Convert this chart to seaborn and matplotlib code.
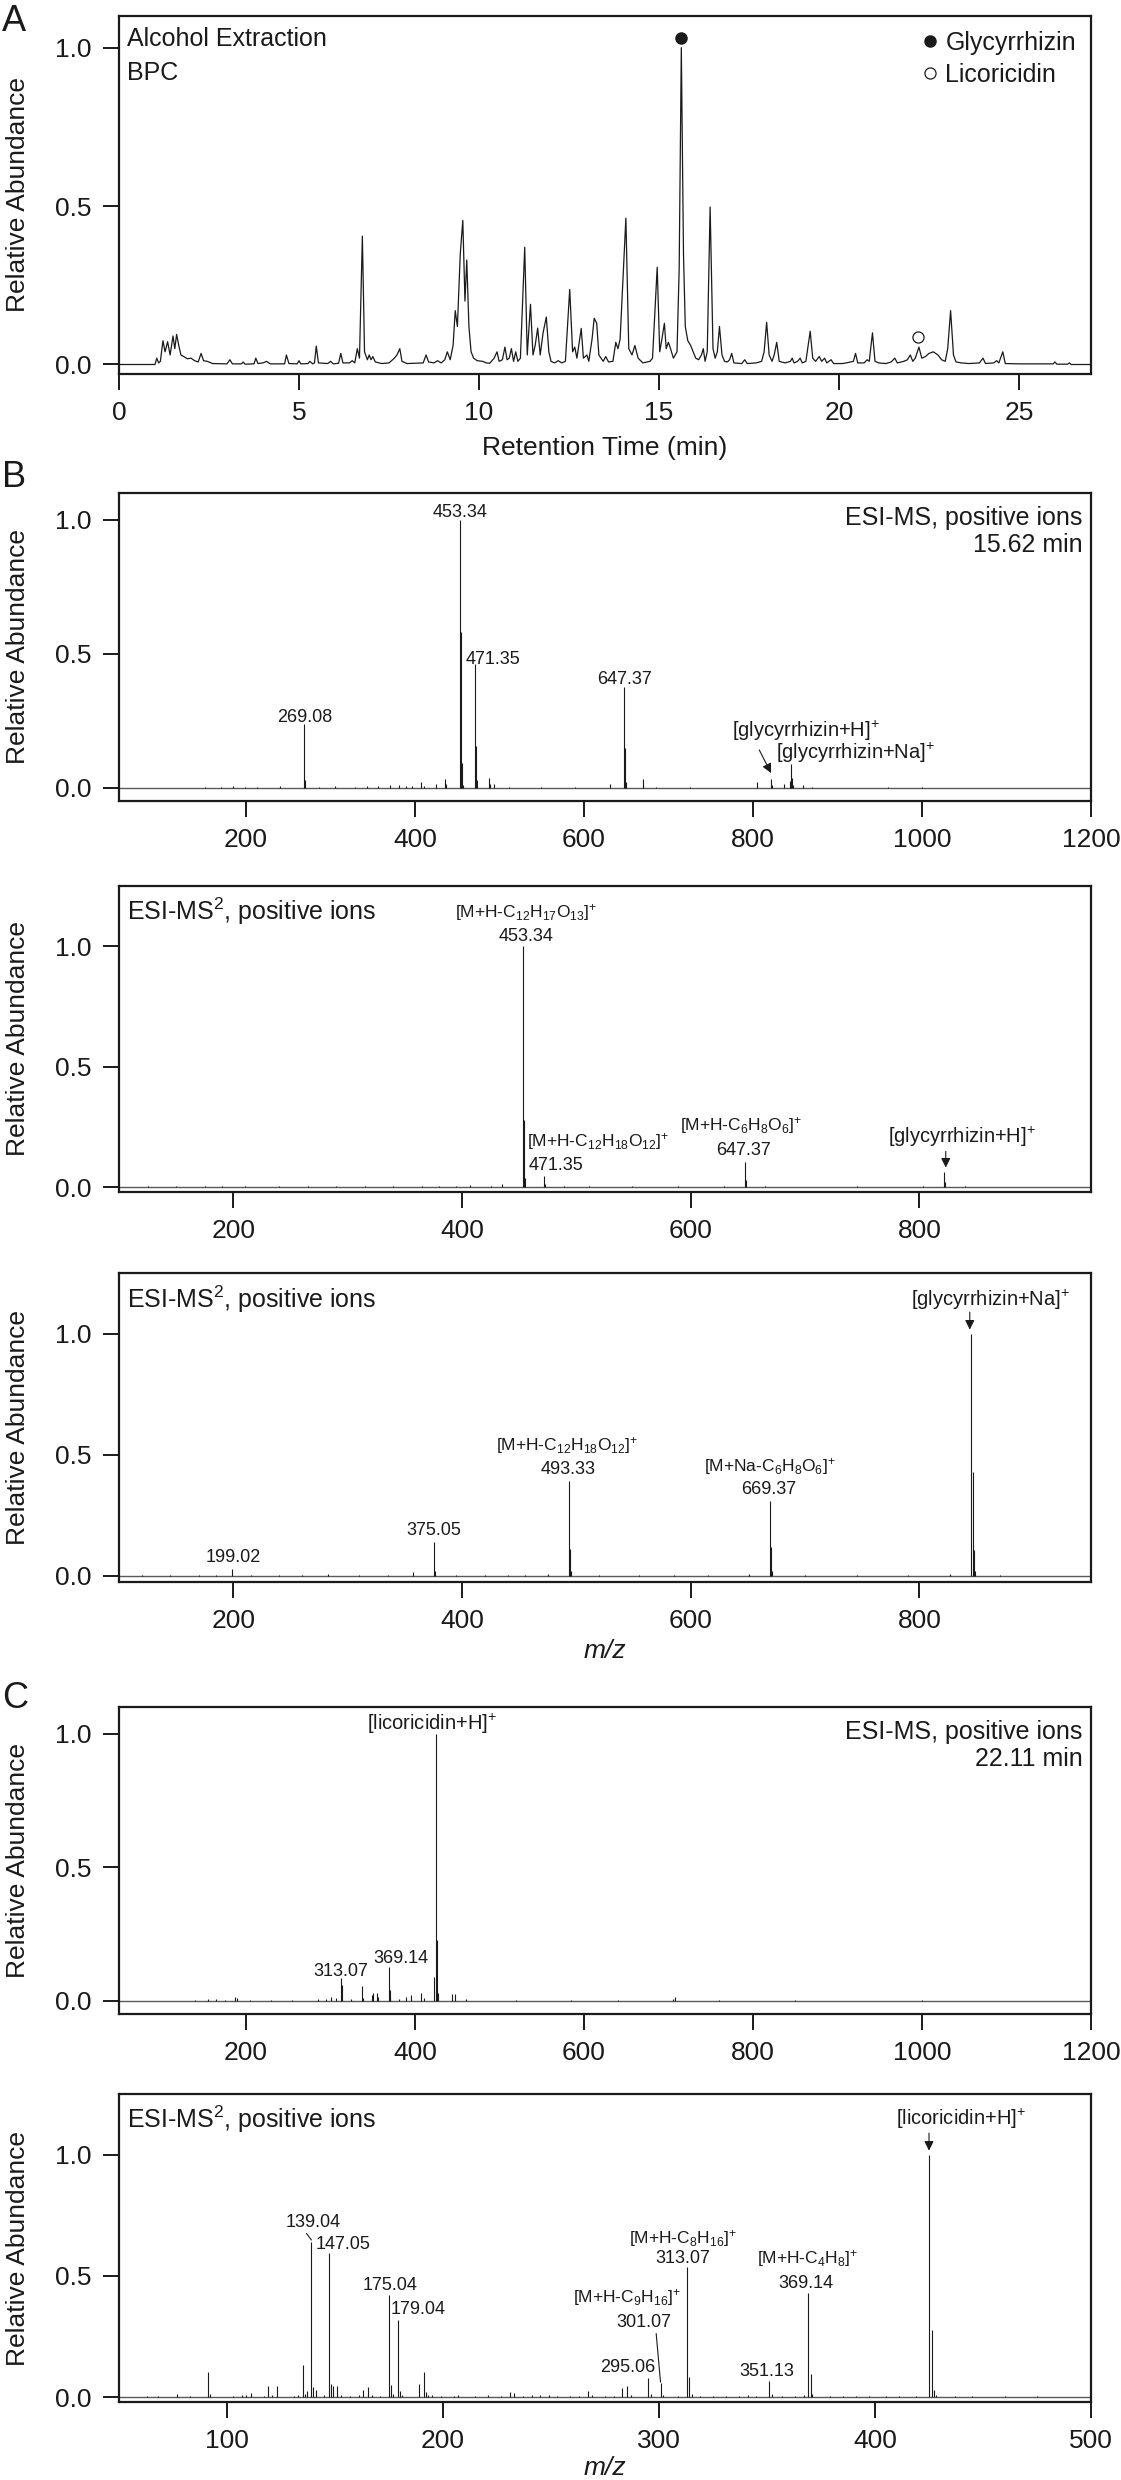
import matplotlib
matplotlib.use("Agg")
import matplotlib.pyplot as plt
import seaborn as sns
from matplotlib.lines import Line2D

# ---------------- data ----------------
# A: base peak chromatogram (retention time in min, relative abundance)
bpc_time = [0.0, 1.0, 1.05, 1.1, 1.15, 1.22, 1.28, 1.35, 1.42, 1.5, 1.55, 1.6, 1.66, 1.72, 1.8, 1.9, 2.0, 2.1,
            2.2, 2.28, 2.35, 2.45, 2.6, 3.0, 3.08, 3.15, 3.4, 3.45, 3.5, 3.75, 3.8, 3.86, 4.0, 4.1, 4.2, 4.6,
            4.65, 4.72, 4.95, 5.0, 5.05, 5.25, 5.3, 5.38, 5.43, 5.48, 5.54, 5.8, 5.88, 5.95, 6.1, 6.16, 6.22,
            6.4, 6.48, 6.55, 6.62, 6.68, 6.76, 6.82, 6.9, 6.95, 7.0, 7.05, 7.12, 7.3, 7.5, 7.65, 7.72, 7.8,
            7.86, 8.0, 8.45, 8.53, 8.6, 8.75, 8.85, 8.95, 9.05, 9.12, 9.2, 9.28, 9.34, 9.4, 9.48, 9.55, 9.61,
            9.66, 9.72, 9.78, 9.85, 9.95, 10.1, 10.2, 10.3, 10.42, 10.5, 10.56, 10.65, 10.72, 10.78, 10.84,
            10.9, 10.96, 11.02, 11.08, 11.15, 11.27, 11.34, 11.43, 11.5, 11.56, 11.63, 11.7, 11.78, 11.87,
            11.94, 12.0, 12.1, 12.2, 12.3, 12.4, 12.52, 12.6, 12.66, 12.72, 12.84, 12.9, 13.0, 13.05, 13.14,
            13.2, 13.27, 13.33, 13.45, 13.52, 13.6, 13.72, 13.8, 13.86, 13.92, 14.08, 14.16, 14.25, 14.33,
            14.42, 14.55, 14.75, 14.82, 14.95, 15.02, 15.08, 15.15, 15.2, 15.26, 15.32, 15.4, 15.5, 15.56,
            15.62, 15.68, 15.73, 15.8, 15.88, 15.95, 16.02, 16.1, 16.18, 16.23, 16.28, 16.34, 16.42, 16.5,
            16.56, 16.62, 16.68, 16.75, 16.82, 16.9, 16.96, 17.02, 17.08, 17.3, 17.38, 17.45, 17.7, 17.85,
            17.92, 17.99, 18.06, 18.14, 18.2, 18.27, 18.34, 18.5, 18.65, 18.7, 18.75, 18.85, 18.92, 18.98,
            19.08, 19.2, 19.27, 19.35, 19.45, 19.52, 19.6, 19.66, 19.78, 19.85, 20.1, 20.2, 20.4, 20.46,
            20.52, 20.7, 20.78, 20.84, 20.93, 21.0, 21.1, 21.3, 21.45, 21.55, 21.62, 21.8, 21.9, 21.98,
            22.05, 22.12, 22.22, 22.3, 22.4, 22.5, 22.62, 22.75, 22.85, 22.95, 23.02, 23.1, 23.18, 23.25,
            23.4, 23.6, 23.9, 24.0, 24.07, 24.3, 24.38, 24.44, 24.55, 24.62, 25.0, 25.5, 25.95, 26.0, 26.05,
            26.35, 26.4, 26.45, 27.0]
bpc_abund = [0.0, 0.0, 0.02, 0.005, 0.01, 0.075, 0.04, 0.072, 0.03, 0.09, 0.05, 0.095, 0.06, 0.03, 0.025,
             0.018, 0.02, 0.012, 0.008, 0.035, 0.012, 0.01, 0.003, 0.002, 0.015, 0.002, 0.002, 0.008, 0.001,
             0.002, 0.02, 0.003, 0.005, 0.01, 0.002, 0.002, 0.03, 0.003, 0.002, 0.012, 0.002, 0.003, 0.01,
             0.002, 0.005, 0.058, 0.005, 0.003, 0.01, 0.002, 0.004, 0.035, 0.005, 0.005, 0.012, 0.005, 0.05,
             0.02, 0.405, 0.04, 0.015, 0.03, 0.015, 0.025, 0.008, 0.003, 0.005, 0.02, 0.03, 0.05, 0.01,
             0.003, 0.005, 0.03, 0.008, 0.005, 0.012, 0.005, 0.015, 0.04, 0.015, 0.06, 0.17, 0.12, 0.35,
             0.455, 0.2, 0.33, 0.12, 0.04, 0.02, 0.012, 0.01, 0.005, 0.004, 0.02, 0.04, 0.01, 0.015, 0.055,
             0.015, 0.02, 0.05, 0.01, 0.04, 0.01, 0.02, 0.37, 0.03, 0.19, 0.03, 0.06, 0.115, 0.03, 0.1, 0.15,
             0.04, 0.01, 0.005, 0.012, 0.005, 0.01, 0.237, 0.04, 0.055, 0.02, 0.114, 0.02, 0.03, 0.01, 0.08,
             0.146, 0.13, 0.03, 0.01, 0.025, 0.008, 0.01, 0.07, 0.05, 0.08, 0.462, 0.05, 0.03, 0.06, 0.02,
             0.005, 0.01, 0.02, 0.307, 0.04, 0.08, 0.13, 0.05, 0.07, 0.05, 0.02, 0.04, 0.3, 1.0, 0.35, 0.12,
             0.075, 0.06, 0.04, 0.02, 0.015, 0.03, 0.05, 0.01, 0.04, 0.497, 0.05, 0.02, 0.04, 0.12, 0.03,
             0.01, 0.008, 0.015, 0.035, 0.005, 0.003, 0.015, 0.003, 0.005, 0.01, 0.04, 0.133, 0.03, 0.01,
             0.03, 0.07, 0.01, 0.005, 0.01, 0.02, 0.005, 0.01, 0.02, 0.005, 0.01, 0.105, 0.02, 0.01, 0.025,
             0.01, 0.02, 0.005, 0.015, 0.003, 0.003, 0.005, 0.01, 0.035, 0.005, 0.005, 0.015, 0.01, 0.10,
             0.01, 0.005, 0.003, 0.008, 0.02, 0.005, 0.01, 0.015, 0.03, 0.01, 0.02, 0.055, 0.02, 0.025,
             0.035, 0.04, 0.03, 0.015, 0.01, 0.05, 0.17, 0.03, 0.008, 0.005, 0.003, 0.005, 0.02, 0.003,
             0.005, 0.012, 0.005, 0.04, 0.003, 0.002, 0.002, 0.002, 0.008, 0.001, 0.001, 0.005, 0.0, 0.0]
glyc_rt, glyc_mark = 15.62, 1.03
lico_rt, lico_mark = 22.2, 0.088

# B: ESI-MS at 15.62 min
b1_mz = [152, 171, 185, 199, 213, 241, 269.08, 270.1, 287, 305, 329, 343, 357, 371, 381, 389, 397, 407.3,
         411, 425, 435.3, 437, 453.34, 454.35, 455.35, 457, 471.35, 472.35, 473.4, 487.3, 489, 493.3, 511,
         549, 589, 631.4, 647.37, 648.38, 649.4, 669.37, 670.4, 685, 725, 805.4, 821.4, 822.4, 837, 843.4,
         845.4, 846.4, 847.4, 859, 870, 960, 1000]
b1_rel = [0.004, 0.003, 0.005, 0.003, 0.004, 0.005, 0.236, 0.03, 0.004, 0.005, 0.004, 0.006, 0.005, 0.01,
          0.008, 0.007, 0.006, 0.02, 0.006, 0.012, 0.034, 0.012, 1.0, 0.58, 0.093, 0.01, 0.46, 0.155, 0.03,
          0.035, 0.012, 0.012, 0.004, 0.003, 0.004, 0.012, 0.375, 0.147, 0.02, 0.034, 0.01, 0.004, 0.003,
          0.02, 0.031, 0.01, 0.015, 0.025, 0.087, 0.035, 0.01, 0.008, 0.004, 0.003, 0.002]

# B: ESI-MS2 of [glycyrrhizin+H]+
b2_mz = [125, 150, 175, 190, 210, 240, 265, 290, 315, 340, 365, 380, 395, 407.3, 425, 435.3, 453.34, 454.35,
         455.35, 471.35, 472.35, 489, 511, 549, 589, 629, 647.37, 648.38, 665, 745, 803.4, 821.4, 822.4, 840]
b2_rel = [0.003, 0.004, 0.003, 0.004, 0.003, 0.003, 0.004, 0.003, 0.004, 0.003, 0.005, 0.004, 0.003, 0.01,
          0.004, 0.014, 1.0, 0.28, 0.04, 0.045, 0.012, 0.004, 0.003, 0.003, 0.003, 0.005, 0.103, 0.03, 0.003,
          0.003, 0.005, 0.062, 0.02, 0.003]

# B: ESI-MS2 of [glycyrrhizin+Na]+
b3_mz = [120, 145, 170, 185, 199.02, 215, 240, 260, 283, 310, 335, 357, 375.05, 376, 395, 420, 440, 455, 475,
         493.33, 494.34, 495, 520, 555, 585, 615, 651, 669.37, 670.38, 671, 700, 745, 790, 827, 845.4, 846.4,
         847.4, 848.4, 870]
b3_rel = [0.004, 0.003, 0.005, 0.003, 0.028, 0.003, 0.004, 0.003, 0.008, 0.003, 0.004, 0.015, 0.142, 0.02,
          0.004, 0.003, 0.004, 0.003, 0.008, 0.39, 0.11, 0.02, 0.003, 0.004, 0.003, 0.004, 0.006, 0.31, 0.12,
          0.02, 0.003, 0.003, 0.004, 0.006, 1.0, 0.43, 0.108, 0.02, 0.003]

# C: ESI-MS at 22.11 min
c1_mz = [140, 155, 165, 175, 187, 190, 205, 230, 255, 285, 295, 301, 307, 313.07, 314.08, 325, 337.1, 339,
         349, 351.1, 355.1, 357, 369.14, 370.15, 371, 381, 389, 395, 407.2, 411, 422.2, 425.2, 426.2, 427.2,
         444, 448, 460, 520, 585, 640, 705, 708, 760, 850, 1000]
c1_rel = [0.003, 0.005, 0.006, 0.004, 0.012, 0.01, 0.004, 0.003, 0.004, 0.005, 0.008, 0.015, 0.01, 0.084,
          0.06, 0.008, 0.055, 0.01, 0.02, 0.03, 0.028, 0.012, 0.125, 0.04, 0.01, 0.008, 0.012, 0.02, 0.027,
          0.01, 0.09, 1.0, 0.227, 0.03, 0.025, 0.025, 0.005, 0.003, 0.003, 0.003, 0.005, 0.012, 0.003, 0.002,
          0.002]

# C: ESI-MS2 of [licoricidin+H]+
c2_mz = [63, 68, 77, 83, 91.05, 92.05, 103, 107, 109, 111, 117, 119.05, 121, 123.04, 131, 133, 135.04, 136,
         137.02, 139.04, 140.04, 141, 145, 147.05, 148.05, 149.02, 151.04, 153, 157, 161, 163.04, 165.05, 167,
         171, 175.04, 176.04, 177, 179.04, 180.04, 181, 189.05, 191.05, 192.05, 193, 195, 199, 205, 207, 215,
         221, 227, 231, 233, 237, 241, 245, 249, 253, 259, 263, 267.07, 269, 275, 279, 283.1, 285.1, 287,
         295.06, 296.07, 301.07, 302, 309, 313.07, 314.08, 315.08, 319, 325, 331, 337, 341, 345, 351.13,
         352.14, 357, 363, 367, 369.14, 370.15, 371, 379, 385, 391, 397, 405, 411, 419, 425.2, 426.2, 427.2,
         428.2, 437, 445, 460, 475, 490]
c2_rel = [0.004, 0.005, 0.012, 0.004, 0.103, 0.015, 0.005, 0.01, 0.008, 0.018, 0.006, 0.048, 0.008, 0.048,
          0.006, 0.01, 0.131, 0.015, 0.025, 0.64, 0.04, 0.03, 0.008, 0.594, 0.054, 0.045, 0.045, 0.008, 0.006,
          0.01, 0.03, 0.04, 0.008, 0.006, 0.42, 0.05, 0.015, 0.318, 0.025, 0.008, 0.054, 0.105, 0.02, 0.01,
          0.008, 0.006, 0.006, 0.008, 0.006, 0.008, 0.006, 0.02, 0.018, 0.006, 0.008, 0.01, 0.008, 0.006,
          0.005, 0.006, 0.025, 0.008, 0.005, 0.006, 0.037, 0.045, 0.008, 0.08, 0.015, 0.058, 0.01, 0.006,
          0.535, 0.083, 0.015, 0.005, 0.006, 0.005, 0.006, 0.008, 0.005, 0.066, 0.012, 0.005, 0.006, 0.008,
          0.428, 0.097, 0.015, 0.005, 0.006, 0.005, 0.005, 0.006, 0.005, 0.006, 1.0, 0.276, 0.03, 0.008,
          0.004, 0.004, 0.003, 0.003, 0.002]

# ---------------- style ----------------
sns.set_theme(style="ticks", rc={"text.color": "k", "axes.labelcolor": "k", "axes.edgecolor": "k",
                                 "xtick.color": "k", "ytick.color": "k"})
plt.rcParams["font.family"] = ["Liberation Sans", "DejaVu Sans"]
plt.rcParams["mathtext.fontset"] = "custom"
plt.rcParams["mathtext.rm"] = "Liberation Sans"
plt.rcParams["mathtext.it"] = "Liberation Sans:italic"
plt.rcParams["mathtext.bf"] = "Liberation Sans:bold"

NUM = 13     # peak m/z labels
FORM = 12.5  # formula labels
NAME = 14.5  # [compound+ion] labels
BIG = 18     # in-panel titles

fig = plt.figure(figsize=(11.21, 24.8), dpi=100)
H = 2480.0
L, W = 119 / 1121, 972 / 1121


def make_axes(top_px, bot_px):
    return fig.add_axes([L, 1 - bot_px / H, W, (bot_px - top_px) / H])


def style(ax, xlim, ylim, xticks):
    ax.set_xlim(*xlim)
    ax.set_ylim(*ylim)
    ax.set_xticks(xticks)
    ax.set_yticks([0, 0.5, 1.0])
    ax.set_yticklabels(["0.0", "0.5", "1.0"])
    for s in ax.spines.values():
        s.set_visible(True)
        s.set_linewidth(1.6)
    ax.tick_params(axis="both", direction="out", length=11.5, width=1.4, labelsize=19)
    ax.tick_params(axis="x", pad=8)
    ax.tick_params(axis="y", pad=8)
    ax.set_ylabel("Relative Abundance", fontsize=19)
    ax.yaxis.set_label_coords(-0.092, 0.5)


def spectrum(ax, mz, rel):
    ax.axhline(0, color="0.35", lw=1.0, zorder=0)
    ax.vlines(mz, 0, rel, color="k", lw=0.8)


def arrow(ax, xy0, xy1):
    ax.annotate("", xy=xy1, xytext=xy0,
                arrowprops=dict(arrowstyle="-|>", color="k", lw=0.8, mutation_scale=14))


def leader(ax, xy0, xy1):
    ax.annotate("", xy=xy1, xytext=xy0, arrowprops=dict(arrowstyle="-", color="k", lw=0.8,
                                                         shrinkA=0, shrinkB=0))


# ---------------- A: chromatogram ----------------
axA = make_axes(16, 374)
sns.lineplot(x=bpc_time, y=bpc_abund, ax=axA, color="k", lw=0.9, sort=False, estimator=None)
axA.plot([glyc_rt], [glyc_mark], "o", color="k", ms=8)
axA.plot([lico_rt], [lico_mark], "o", mfc="white", mec="k", mew=0.9, ms=8)
style(axA, (0, 27), (-0.03, 1.10), [0, 5, 10, 15, 20, 25])
axA.set_xlabel("Retention Time (min)", fontsize=19, labelpad=8)
axA.text(0.008, 1.026, "Alcohol Extraction", transform=axA.get_yaxis_transform(), fontsize=BIG, va="center")
axA.text(0.008, 0.92, "BPC", transform=axA.get_yaxis_transform(), fontsize=BIG, va="center")
handles = [Line2D([], [], marker="o", ls="", color="k", ms=8),
           Line2D([], [], marker="o", ls="", mfc="white", mec="k", mew=0.9, ms=8)]
axA.legend(handles, ["Glycyrrhizin", "Licoricidin"], loc="upper right", frameon=False, fontsize=BIG,
           handlelength=0.6, handletextpad=0.3, borderaxespad=0.2, labelspacing=0.3)

# ---------------- B1: ESI-MS 15.62 min ----------------
axB1 = make_axes(493, 801)
spectrum(axB1, b1_mz, b1_rel)
style(axB1, (50, 1200), (-0.05, 1.10), [200, 400, 600, 800, 1000, 1200])
axB1.text(453, 1.027, "453.34", fontsize=NUM, ha="center", va="center")
axB1.text(460, 0.48, "471.35", fontsize=NUM, ha="left", va="center")
axB1.text(647.5, 0.404, "647.37", fontsize=NUM, ha="center", va="center")
axB1.text(269.5, 0.261, "269.08", fontsize=NUM, ha="center", va="center")
axB1.text(863, 0.21, "[glycyrrhizin+H]$^{+}$", fontsize=NAME, ha="center", va="center")
axB1.text(827, 0.13, "[glycyrrhizin+Na]$^{+}$", fontsize=NAME, ha="left", va="center")
arrow(axB1, (806, 0.15), (823, 0.045))
axB1.text(0.991, 1.006, "ESI-MS, positive ions", transform=axB1.get_yaxis_transform(), fontsize=BIG,
          ha="right", va="center")
axB1.text(0.991, 0.907, "15.62 min", transform=axB1.get_yaxis_transform(), fontsize=BIG,
          ha="right", va="center")

# ---------------- B2: MS2 of [M+H]+ ----------------
axB2 = make_axes(886, 1192)
spectrum(axB2, b2_mz, b2_rel)
style(axB2, (100, 950), (-0.02, 1.25), [200, 400, 600, 800])
axB2.text(0.008, 1.145, "ESI-MS$^{2}$, positive ions", transform=axB2.get_yaxis_transform(), fontsize=BIG,
          va="center")
axB2.text(456, 1.138, "[M+H-C$_{12}$H$_{17}$O$_{13}$]$^{+}$", fontsize=FORM, ha="center", va="center")
axB2.text(456, 1.04, "453.34", fontsize=NUM, ha="center", va="center")
axB2.text(457, 0.19, "[M+H-C$_{12}$H$_{18}$O$_{12}$]$^{+}$", fontsize=FORM, ha="left", va="center")
axB2.text(458, 0.09, "471.35", fontsize=NUM, ha="left", va="center")
axB2.text(644, 0.258, "[M+H-C$_{6}$H$_{8}$O$_{6}$]$^{+}$", fontsize=FORM, ha="center", va="center")
axB2.text(646, 0.152, "647.37", fontsize=NUM, ha="center", va="center")
axB2.text(837, 0.207, "[glycyrrhizin+H]$^{+}$", fontsize=NAME, ha="center", va="center")
arrow(axB2, (823, 0.16), (823, 0.07))

# ---------------- B3: MS2 of [M+Na]+ ----------------
axB3 = make_axes(1273, 1582)
spectrum(axB3, b3_mz, b3_rel)
style(axB3, (100, 950), (-0.025, 1.25), [200, 400, 600, 800])
axB3.set_xlabel("m/z", fontsize=19, fontstyle="italic", labelpad=4)
axB3.text(0.008, 1.14, "ESI-MS$^{2}$, positive ions", transform=axB3.get_yaxis_transform(), fontsize=BIG,
          va="center")
axB3.text(862, 1.14, "[glycyrrhizin+Na]$^{+}$", fontsize=NAME, ha="center", va="center")
arrow(axB3, (844, 1.10), (844, 1.005))
axB3.text(491.6, 0.54, "[M+H-C$_{12}$H$_{18}$O$_{12}$]$^{+}$", fontsize=FORM, ha="center", va="center")
axB3.text(492.8, 0.44, "493.33", fontsize=NUM, ha="center", va="center")
axB3.text(669, 0.45, "[M+Na-C$_{6}$H$_{8}$O$_{6}$]$^{+}$", fontsize=FORM, ha="center", va="center")
axB3.text(668.5, 0.356, "669.37", fontsize=NUM, ha="center", va="center")
axB3.text(375, 0.186, "375.05", fontsize=NUM, ha="center", va="center")
axB3.text(200, 0.076, "199.02", fontsize=NUM, ha="center", va="center")

# ---------------- C1: ESI-MS 22.11 min ----------------
axC1 = make_axes(1707, 2014)
spectrum(axC1, c1_mz, c1_rel)
style(axC1, (50, 1200), (-0.05, 1.10), [200, 400, 600, 800, 1000, 1200])
axC1.text(420, 1.035, "[licoricidin+H]$^{+}$", fontsize=NAME, ha="center", va="center")
axC1.text(384, 0.158, "369.14", fontsize=NUM, ha="center", va="center")
axC1.text(312, 0.11, "313.07", fontsize=NUM, ha="center", va="center")
axC1.text(0.991, 1.006, "ESI-MS, positive ions", transform=axC1.get_yaxis_transform(), fontsize=BIG,
          ha="right", va="center")
axC1.text(0.991, 0.906, "22.11 min", transform=axC1.get_yaxis_transform(), fontsize=BIG,
          ha="right", va="center")

# ---------------- C2: MS2 of [licoricidin+H]+ ----------------
axC2 = make_axes(2094, 2402)
spectrum(axC2, c2_mz, c2_rel)
style(axC2, (50, 500), (-0.02, 1.25), [100, 200, 300, 400, 500])
axC2.set_xlabel("m/z", fontsize=19, fontstyle="italic", labelpad=2)
axC2.text(0.008, 1.145, "ESI-MS$^{2}$, positive ions", transform=axC2.get_yaxis_transform(), fontsize=BIG,
          va="center")
axC2.text(440, 1.148, "[licoricidin+H]$^{+}$", fontsize=NAME, ha="center", va="center")
arrow(axC2, (425, 1.10), (425, 1.005))
axC2.text(140, 0.72, "139.04", fontsize=NUM, ha="center", va="center")
leader(axC2, (136.8, 0.675), (139.1, 0.648))
axC2.text(141, 0.63, "147.05", fontsize=NUM, ha="left", va="center")
axC2.text(175.3, 0.462, "175.04", fontsize=NUM, ha="center", va="center")
axC2.text(175.7, 0.36, "179.04", fontsize=NUM, ha="left", va="center")
axC2.text(285, 0.41, "[M+H-C$_{9}$H$_{16}$]$^{+}$", fontsize=FORM, ha="center", va="center")
axC2.text(292.8, 0.306, "301.07", fontsize=NUM, ha="center", va="center")
leader(axC2, (298.7, 0.262), (300.7, 0.062))
axC2.text(285.5, 0.124, "295.06", fontsize=NUM, ha="center", va="center")
axC2.text(311, 0.655, "[M+H-C$_{8}$H$_{16}$]$^{+}$", fontsize=FORM, ha="center", va="center")
axC2.text(311, 0.572, "313.07", fontsize=NUM, ha="center", va="center")
axC2.text(368.7, 0.572, "[M+H-C$_{4}$H$_{8}$]$^{+}$", fontsize=FORM, ha="center", va="center")
axC2.text(368, 0.469, "369.14", fontsize=NUM, ha="center", va="center")
axC2.text(350, 0.106, "351.13", fontsize=NUM, ha="center", va="center")

# panel letters
for letter, top_px in [("A", 4), ("B", 460), ("C", 1681)]:
    fig.text(0.002, 1 - top_px / H, letter, fontsize=26, va="top", ha="left")

fig.savefig("out.png", dpi=100)
